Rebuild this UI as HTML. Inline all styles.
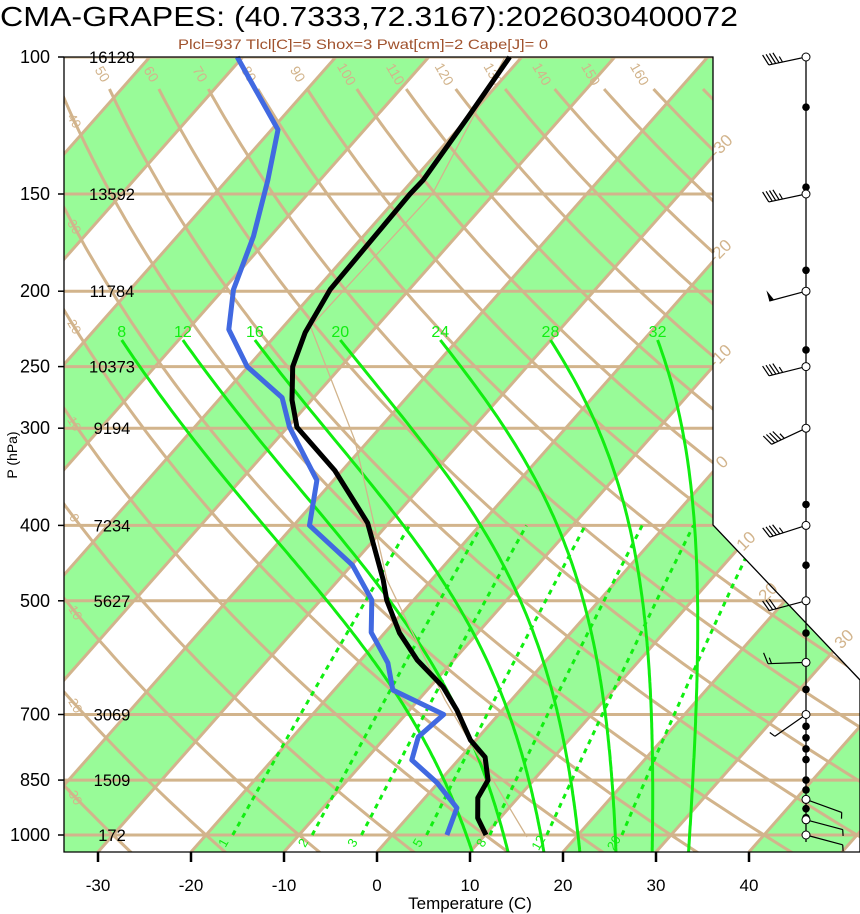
<!DOCTYPE html>
<html><head><meta charset="utf-8"><title>CMA-GRAPES Skew-T</title>
<style>
html,body{margin:0;padding:0;background:#fff;}
svg{display:block;font-family:"Liberation Sans",sans-serif;}
</style></head>
<body>
<svg id="chart" width="860" height="914" viewBox="0 0 860 914" xmlns="http://www.w3.org/2000/svg">
<defs>
<clipPath id="plotclip"><path d="M64,57 L713,57 L713,525 L860,680 L860,852 L64,852 Z"/></clipPath>
</defs>
<rect x="0" y="0" width="860" height="914" fill="#fff"/>
<text x="0" y="26" font-size="28" textLength="738" lengthAdjust="spacingAndGlyphs" fill="#000">CMA-GRAPES: (40.7333,72.3167):2026030400072</text>
<text x="178" y="49" font-size="14" textLength="370" lengthAdjust="spacingAndGlyphs" fill="#a0522d">Plcl=937 Tlcl[C]=5 Shox=3 Pwat[cm]=2 Cape[J]= 0</text>
<g id="bg" clip-path="url(#plotclip)"></g>
<g id="fg"></g>
<text x="470" y="909" font-size="17" text-anchor="middle">Temperature (C)</text>
<text transform="translate(17,455) rotate(-90)" font-size="14" text-anchor="middle">P (hPa)</text>
</svg>
<script>
// ---- data ----
const pressureLevels = [100,150,200,250,300,400,500,700,850,1000];
const heightLabels = ["16128","13592","11784","10373","9194","7234","5627","3069","1509","172"];
const tempTicks = [-30,-20,-10,0,10,20,30,40];
const tempP = [100,119,144,150,199,226,250,276,299,340,397,470,499,550,596,645,691,755,794,850,896,951,1000];
const tempT = [-61.3,-60.1,-58.9,-59.0,-58.5,-57.1,-55.2,-52.1,-49.0,-40.8,-32.3,-25.2,-22.9,-18.4,-13.9,-8.6,-4.9,-0.6,2.6,5.1,5.7,7.6,10.1];
const dewP = [100,124,144,170,199,224,250,274,299,350,400,450,499,549,601,651,700,748,801,857,923,1000];
const dewT = [-90.6,-79.3,-75.6,-71.8,-68.9,-65.6,-60.1,-53.4,-49.8,-41.8,-38.3,-29.9,-24.5,-21.5,-16.8,-13.7,-5.9,-6.5,-5.0,-0.1,4.4,5.9];
const parcelP = [1006,671,470,311,222,150,100];
const parcelT = [14.7,-7.1,-24.8,-41.5,-57.1,-56.6,-61.8];
const moistThetaW = [8,12,16,20,24,28,32];
const mixRatios = [1,2,3,5,8,12,20];
const windP = [100,150,200,250,300,400,500,600,700,900,956,1000];
const windDir = [258,258,255,256,245,252,255,268,235,110,105,105];
const windSpd = [45,45,50,45,45,45,30,15,5,5,5,5];
const dotP = [116,147,188,238,300,376,450,500,550,600,650,700,725,750,775,800,850,875,900,925,950,1000];

// ---- axis functions ----
const NS="http://www.w3.org/2000/svg";
function yP(p){return 835-778*Math.log10(1000/p);}
function xT(T,p){return 377+9.3*T+0.884*(852-yP(p));}
function pY(y){return 1000*Math.pow(10,(y-835)/778);}
function mk(tag,attrs,parent){const e=document.createElementNS(NS,tag);for(const k in attrs)e.setAttribute(k,attrs[k]);parent.appendChild(e);return e;}
const bg=document.getElementById('bg'), fg=document.getElementById('fg');
const TAN="#d2b48c", GRN="#98fb98", LIME="#11ee11";

for(let T=-120;T<=40;T+=20){
  const a=xT(T,pY(852)), b=xT(T+10,pY(852)), c=xT(T+10,pY(57)), d=xT(T,pY(57));
  const e=mk('polygon',{points:`${a},852 ${b},852 ${c},57 ${d},57`,fill:GRN},bg);
  
  
}
for(let T=-130;T<=60;T+=10){
  const e=mk('line',{x1:xT(T,pY(852)),y1:852,x2:xT(T,pY(57)),y2:57,stroke:TAN,'stroke-width':3},bg);
  
  
}
function dryT(th,p){return (th+273.15)*Math.pow(p/1000,0.286)-273.15;}
const pTopDry=pY(89);
for(let th=-60;th<=180;th+=10){
  let pts=[];
  for(let p=1060;p>=pTopDry;p*=0.98){pts.push(xT(dryT(th,p),p).toFixed(1)+','+yP(p).toFixed(1));}
  pts.push(xT(dryT(th,pTopDry),pTopDry).toFixed(1)+','+yP(pTopDry).toFixed(1));
  const e=mk('polyline',{points:pts.join(' '),fill:'none',stroke:TAN,'stroke-width':3},bg);
  
  
}
pressureLevels.forEach(p=>{
  const e=mk('line',{x1:64,y1:yP(p),x2:860,y2:yP(p),stroke:TAN,'stroke-width':3},bg);
  
  
});
function tdFromW(w,p){const e=w/1000*p/(0.622+w/1000);const l=Math.log(e/6.112);return 243.5*l/(17.67-l);}
mixRatios.forEach(w=>{
  const pts=[];
  for(let p=1000;p>=400;p-=10){pts.push(xT(tdFromW(w,p),p).toFixed(1)+','+yP(p).toFixed(1));}
  const e=mk('polyline',{points:pts.join(' '),fill:'none',stroke:LIME,'stroke-width':3,'stroke-dasharray':'5,5'},bg);
  
  
  const lx=xT(tdFromW(w,1030),1030), ly=yP(1030);
  const t=mk('text',{x:lx,y:ly,'font-size':13,fill:LIME,'text-anchor':'middle',transform:`rotate(-60 ${lx} ${ly})`},bg);
  t.textContent=String(w);
  
  
});
function es(Tc){return 6.112*Math.exp(17.67*Tc/(Tc+243.5));}
function dTdp(T,p){const Tc=T-273.15;const e=es(Tc);const rs=0.622*e/(p-e);
  const Lv=2.501e6,Rd=287.04,Cp=1005.7;
  return (Rd*T+Lv*rs)/(p*(Cp+Lv*Lv*rs*0.622/(Rd*T*T)));}
function moistPath(thw,pTop){
  const out=[];let T=thw+273.15,p=1000;
  let T2=T,p2=1000;const low=[];
  while(p2<1055){const h=5;const k1=dTdp(T2,p2);const k2=dTdp(T2+k1*h,p2+h);T2+=h*(k1+k2)/2;p2+=h;low.push([p2,T2-273.15]);}
  low.reverse().forEach(a=>out.push(a));
  out.push([1000,thw]);
  while(p>pTop){const h=-Math.min(5,p-pTop);const k1=dTdp(T,p);const k2=dTdp(T+k1*h,p+h);T+=h*(k1+k2)/2;p+=h;out.push([p,T-273.15]);}
  return out;
}
const pTopMoist=pY(340);
moistThetaW.forEach(th=>{
  const arr=moistPath(th,pTopMoist);
  const pts=arr.map(a=>xT(a[1],a[0]).toFixed(1)+','+yP(a[0]).toFixed(1));
  const e=mk('polyline',{points:pts.join(' '),fill:'none',stroke:LIME,'stroke-width':3},bg);
  
  
  const last=arr[arr.length-1];
  const t=mk('text',{x:xT(last[1],last[0]),y:337,'font-size':16,fill:LIME,'text-anchor':'middle'},bg);
  t.textContent=String(th);
  
  
});
for(let th=50;th<=160;th+=10){
  const p=pY(74);const x=xT(dryT(th,p),p);
  const t=mk('text',{x:x,y:79,'font-size':14,fill:TAN,'text-anchor':'middle',transform:`rotate(60 ${x} 74)`},fg);
  t.textContent=String(th);
  
  
}
for(let th=-30;th<=40;th+=10){
  let best=null;
  for(let y=90;y<852;y++){const p=pY(y);const x=xT(dryT(th,p),p);if(x>=74){best=y;break;}}
  if(best===null||best>840)continue;
  const t=mk('text',{x:74,y:best+4,'font-size':13,fill:TAN,'text-anchor':'middle',transform:`rotate(60 74 ${best})`},fg);
  t.textContent=String(th);
  
  
}
[[-30,725,150],[-20,724,255],[-10,724,360],[0,726,466],[10,750,545],[20,772,596],[30,848,643]].forEach(a=>{
  const t=mk('text',{x:a[1],y:a[2],'font-size':17,fill:TAN,'text-anchor':'middle',transform:`rotate(-45 ${a[1]} ${a[2]})`},fg);
  t.textContent=String(a[0]);
  
  
});
{
  const pts=parcelP.map((p,i)=>xT(parcelT[i],p).toFixed(1)+','+yP(p).toFixed(1));
  const e=mk('polyline',{points:pts.join(' '),fill:'none',stroke:TAN,'stroke-width':1.3},fg);
  
  
}
{
  const pts=dewP.map((p,i)=>xT(dewT[i],p).toFixed(1)+','+yP(p).toFixed(1));
  const e=mk('polyline',{points:pts.join(' '),fill:'none',stroke:'#4169e1','stroke-width':5,'stroke-linejoin':'round'},fg);
  
  
}
{
  const pts=tempP.map((p,i)=>xT(tempT[i],p).toFixed(1)+','+yP(p).toFixed(1));
  const e=mk('polyline',{points:pts.join(' '),fill:'none',stroke:'#000','stroke-width':5,'stroke-linejoin':'round'},fg);
  
  
}
{
  const e=mk('path',{d:'M64,57 L713,57 L713,525 L860,680 L860,852 M64,57 L64,852 L860,852',fill:'none',stroke:'#000','stroke-width':1.3},fg);
  
  
}
pressureLevels.forEach((p,i)=>{
  const y=yP(p);
  const tk=mk('line',{x1:58,y1:y,x2:64,y2:y,stroke:'#000','stroke-width':1.5},fg);
  
  
  const t=mk('text',{x:50,y:y+6,'font-size':18,'text-anchor':'end'},fg);
  t.textContent=String(p);
  
  
  const h=mk('text',{x:112,y:y+6,'font-size':16.5,'text-anchor':'middle'},fg);
  h.textContent=heightLabels[i];
  
  
});
tempTicks.forEach(T=>{
  const x=xT(T,pY(852));
  const tk=mk('line',{x1:x,y1:852,x2:x,y2:862,stroke:'#000','stroke-width':2.5},fg);
  
  
  const t=mk('text',{x:x,y:891,'font-size':17,'text-anchor':'middle'},fg);
  t.textContent=String(T);
  
  
});
const WX=806;
{
  const e=mk('line',{x1:WX,y1:57,x2:WX,y2:842,stroke:'#000','stroke-width':1.3},fg);
  
  
}
dotP.forEach(p=>{
  const c=mk('circle',{cx:WX,cy:yP(p),r:3.8,fill:'#000'},fg);
  
  
});
windP.forEach((p,i)=>{
  const y=yP(p);
  const a=windDir[i]*Math.PI/180;
  const dx=Math.sin(a), dy=-Math.cos(a);
  const L=38, ex=WX+dx*L, ey=y+dy*L;
  const rx=-dy, ry=dx;
  let d=`M${WX},${y} L${ex.toFixed(1)},${ey.toFixed(1)}`;
  let s=windSpd[i], pos=0;
  let fill='';
  while(s>=50){const bx=ex-dx*pos,by=ey-dy*pos;const cx=bx-dx*5,cy=by-dy*5;
    fill+=`M${bx.toFixed(1)},${by.toFixed(1)} L${(bx+rx*11).toFixed(1)},${(by+ry*11).toFixed(1)} L${cx.toFixed(1)},${cy.toFixed(1)} Z `;s-=50;pos+=7;}
  while(s>=10){const bx=ex-dx*pos,by=ey-dy*pos;d+=` M${bx.toFixed(1)},${by.toFixed(1)} l${(rx*11+dx*4).toFixed(1)},${(ry*11+dy*4).toFixed(1)}`;s-=10;pos+=3.5;}
  if(s>=5){const bx=ex-dx*pos,by=ey-dy*pos;d+=` M${bx.toFixed(1)},${by.toFixed(1)} l${(rx*6+dx*2).toFixed(1)},${(ry*6+dy*2).toFixed(1)}`;}
  const e=mk('path',{d:d,fill:'none',stroke:'#000','stroke-width':1.2},fg);
  
  
  if(fill){const f=mk('path',{d:fill,fill:'#000'},fg);
    
    }
  const c=mk('circle',{cx:WX,cy:y,r:4,fill:'#fff',stroke:'#000','stroke-width':1},fg);
  
  
});
</script>
</body></html>
